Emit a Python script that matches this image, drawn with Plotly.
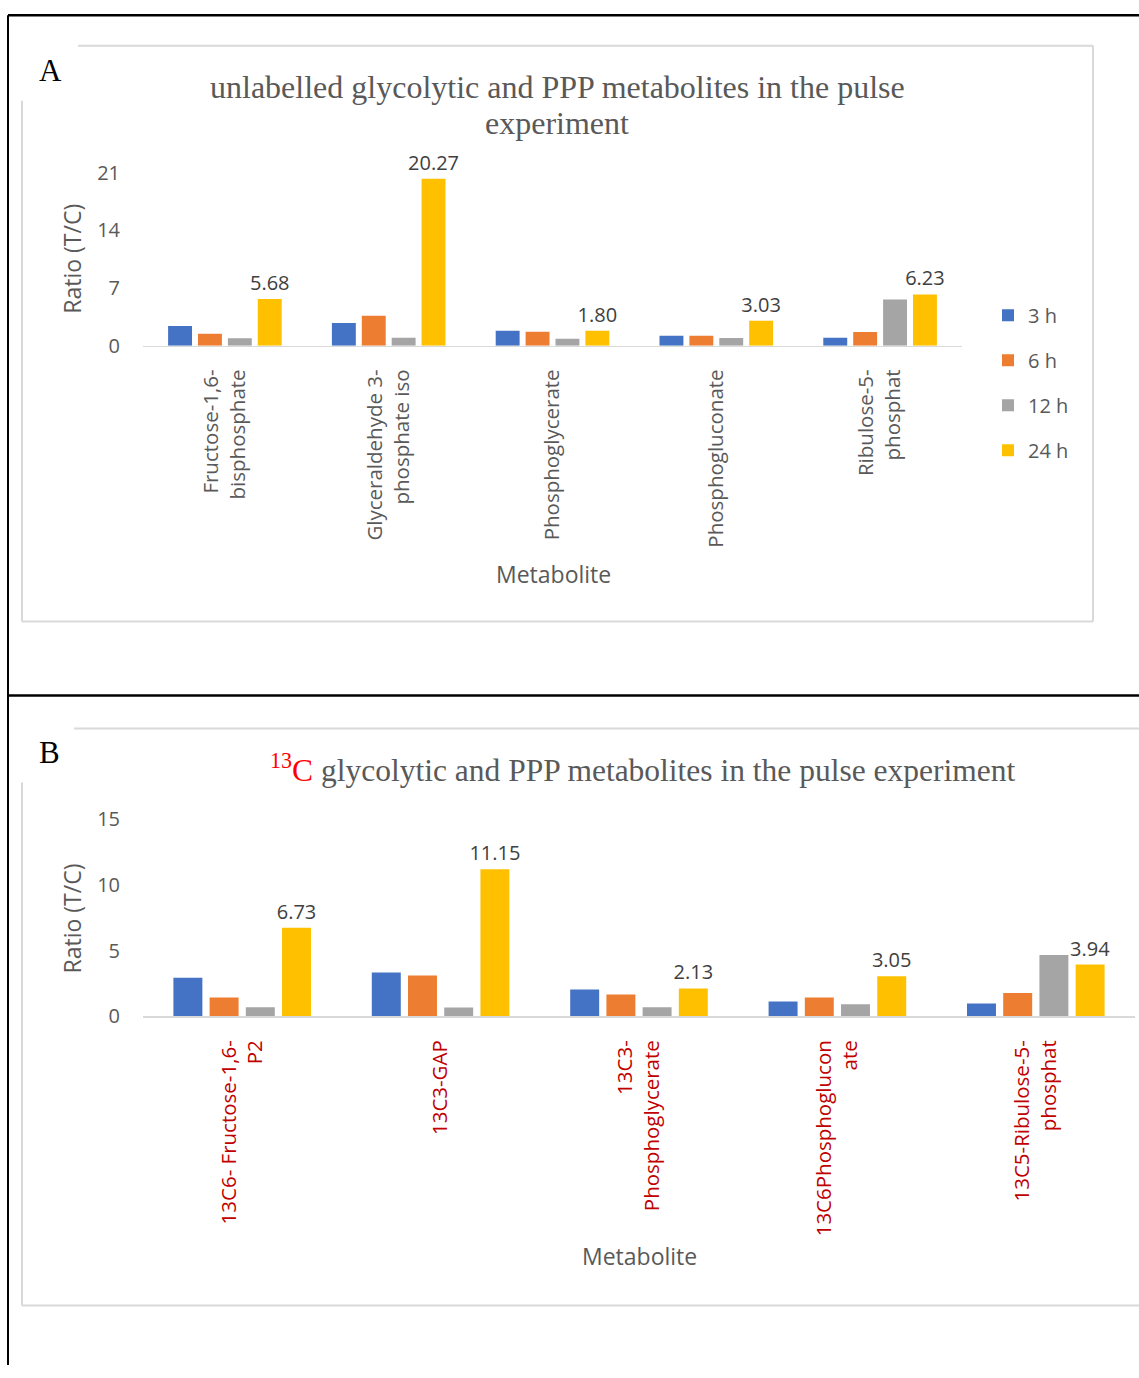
import plotly.graph_objects as go

W, H = 1139, 1378

# ---------------- data ----------------
series_names = ["3 h", "6 h", "12 h", "24 h"]
series_colors = ["#4472C4", "#ED7D31", "#A5A5A5", "#FFC000"]

cats_a = ["Fructose-1,6-<br>bisphosphate", "Glyceraldehyde 3-<br>phosphate iso",
          "Phosphoglycerate", "Phosphogluconate", "Ribulose-5-<br>phosphat"]
a_3h = [2.39, 2.75, 1.82, 1.21, 0.97]
a_6h = [1.46, 3.64, 1.70, 1.21, 1.66]
a_12h = [0.89, 0.97, 0.85, 0.93, 5.62]
a_24h = [5.68, 20.27, 1.80, 3.03, 6.23]

cats_b = ["13C6- Fructose-1,6-<br>P2", "13C3-GAP", "13C3-<br>Phosphoglycerate",
          "13C6Phosphoglucon<br>ate", "13C5-Ribulose-5-<br>phosphat"]
b_3h = [2.93, 3.33, 2.05, 1.14, 0.98]
b_6h = [1.44, 3.11, 1.67, 1.44, 1.79]
b_12h = [0.70, 0.68, 0.70, 0.93, 4.67]
b_24h = [6.73, 11.15, 2.13, 3.05, 3.94]

ticks_a = [0, 7, 14, 21]
ticks_b = [0, 5, 10, 15]

# ---------------- helpers ----------------
# vertical page-to-screenshot correction observed in the viewer
Y_OFF, Y_SCALE = 13.2, 0.9807

def px(x):
    return x / W

def py(y):
    fy = (y - Y_OFF) / Y_SCALE
    fy = min(max(fy, 1.2), H)
    return 1 - fy / H

GRAY_TXT = "#595959"
SANS = "Open Sans, Liberation Sans, sans-serif"
SERIF = "Liberation Serif, Times New Roman, serif"

fig = go.Figure()

for i, (name, col) in enumerate(zip(series_names, series_colors)):
    vals = [a_3h, a_6h, a_12h, a_24h][i]
    kw = {}
    if name == "24 h":
        kw = dict(texttemplate="%{y:.2f}", textposition="outside",
                  textfont=dict(family=SANS, size=20, color="#404040"),
                  cliponaxis=False, constraintext="none")
    fig.add_trace(go.Bar(x=cats_a, y=vals, name=name, marker_color=col,
                         marker_line_width=0, xaxis="x", yaxis="y",
                         legendgroup=name, showlegend=True, **kw))

for i, (name, col) in enumerate(zip(series_names, series_colors)):
    vals = [b_3h, b_6h, b_12h, b_24h][i]
    kw = {}
    if name == "24 h":
        kw = dict(texttemplate="%{y:.2f}", textposition="outside",
                  textfont=dict(family=SANS, size=20, color="#404040"),
                  cliponaxis=False, constraintext="none")
    fig.add_trace(go.Bar(x=cats_b, y=vals, name=name, marker_color=col,
                         marker_line_width=0, xaxis="x2", yaxis="y2",
                         legendgroup=name, showlegend=False, **kw))

axis_common_x = dict(showgrid=False, zeroline=False, showline=True,
                     linecolor="#d9d9d9", linewidth=1.5, ticks="",
                     tickangle=-90, ticklabelstandoff=14, fixedrange=True)
axis_common_y = dict(showgrid=False, zeroline=False, showline=False, ticks="",
                     ticklabelstandoff=22, fixedrange=True,
                     tickfont=dict(family=SANS, size=20, color=GRAY_TXT))

shapes = []
def line(x0, y0, x1, y1, color, width):
    shapes.append(dict(type="line", xref="paper", yref="paper",
                       x0=px(x0), y0=py(y0), x1=px(x1), y1=py(y1),
                       line=dict(color=color, width=width)))

# outer black frame lines
line(8, 12, 1139, 12, "black", 2.5)
line(8, 12, 8, 1378, "black", 2)
line(8, 695, 1139, 695, "black", 2.5)

# panel A light box
line(78, 45, 1093, 45, "#d9d9d9", 2)
line(1093, 45, 1093, 621, "#d9d9d9", 2)
line(22, 621, 1093, 621, "#d9d9d9", 2)
line(22, 100, 22, 621, "#d9d9d9", 2)
# panel B light box
line(74, 728, 1139, 728, "#d9d9d9", 2)
line(22, 1305, 1139, 1305, "#d9d9d9", 2)
line(22, 782, 22, 1305, "#d9d9d9", 2)

annotations = [
    dict(text="A", x=px(37), y=py(70), xanchor="left", yanchor="middle",
         font=dict(family=SERIF, size=31, color="black")),
    dict(text="B", x=px(37), y=py(752), xanchor="left", yanchor="middle",
         font=dict(family=SERIF, size=31, color="black")),
    dict(text="unlabelled glycolytic and PPP metabolites in the pulse",
         x=px(557), y=py(86), xanchor="center", yanchor="middle",
         font=dict(family=SERIF, size=32, color=GRAY_TXT)),
    dict(text="experiment",
         x=px(557), y=py(122), xanchor="center", yanchor="middle",
         font=dict(family=SERIF, size=32, color=GRAY_TXT)),
    dict(text="<span style='color:#FF0000'><sup>13</sup>C</span> glycolytic and PPP metabolites in the pulse experiment",
         x=px(643), y=py(767), xanchor="center", yanchor="middle",
         font=dict(family=SERIF, size=31.5, color=GRAY_TXT)),
    dict(text="Ratio (T/C)", x=px(72), y=py(258), textangle=-90,
         xanchor="center", yanchor="middle",
         font=dict(family=SANS, size=23, color=GRAY_TXT)),
    dict(text="Ratio (T/C)", x=px(72), y=py(918), textangle=-90,
         xanchor="center", yanchor="middle",
         font=dict(family=SANS, size=23, color=GRAY_TXT)),
    dict(text="Metabolite", x=px(553), y=py(573), xanchor="center", yanchor="middle",
         font=dict(family=SANS, size=23, color=GRAY_TXT)),
    dict(text="Metabolite", x=px(639), y=py(1256), xanchor="center", yanchor="middle",
         font=dict(family=SANS, size=23, color=GRAY_TXT)),
]
for a in annotations:
    a.update(xref="paper", yref="paper", showarrow=False)

fig.update_layout(
    width=W, height=H, autosize=False,
    margin=dict(l=0, r=0, t=0, b=0),
    paper_bgcolor="white", plot_bgcolor="white",
    barmode="group", bargap=0.27, bargroupgap=0.2,
    xaxis=dict(domain=[px(143), px(962)], anchor="y",
               tickfont=dict(family=SANS, size=20.5, color=GRAY_TXT),
               **axis_common_x),
    yaxis=dict(domain=[py(345), py(172)], anchor="x", range=[0, 21],
               tickvals=ticks_a, **axis_common_y),
    xaxis2=dict(domain=[px(143), px(1135)], anchor="y2",
                tickfont=dict(family=SANS, size=20.5, color="#C00000"),
                **axis_common_x),
    yaxis2=dict(domain=[py(1016), py(818)], anchor="x2", range=[0, 15],
                tickvals=ticks_b, **axis_common_y),
    showlegend=True,
    legend=dict(x=px(988), y=py(295), xanchor="left", yanchor="top",
                font=dict(family=SANS, size=20, color=GRAY_TXT),
                tracegroupgap=16, traceorder="grouped", bgcolor="rgba(0,0,0,0)"),
    shapes=shapes,
    annotations=annotations,
)

fig.write_html(
    "out.html",
    config={"displayModeBar": False, "staticPlot": True},
    post_script=(
        "var d=document.getElementById('{plot_id}');"
        "d.style.position='fixed';d.style.top='0px';d.style.left='0px';"
        "document.body.style.margin='0';document.body.style.padding='0';"
        "document.body.style.height='1378px';document.body.style.overflow='hidden';"
        "document.documentElement.style.overflow='hidden';"
    ),
)
